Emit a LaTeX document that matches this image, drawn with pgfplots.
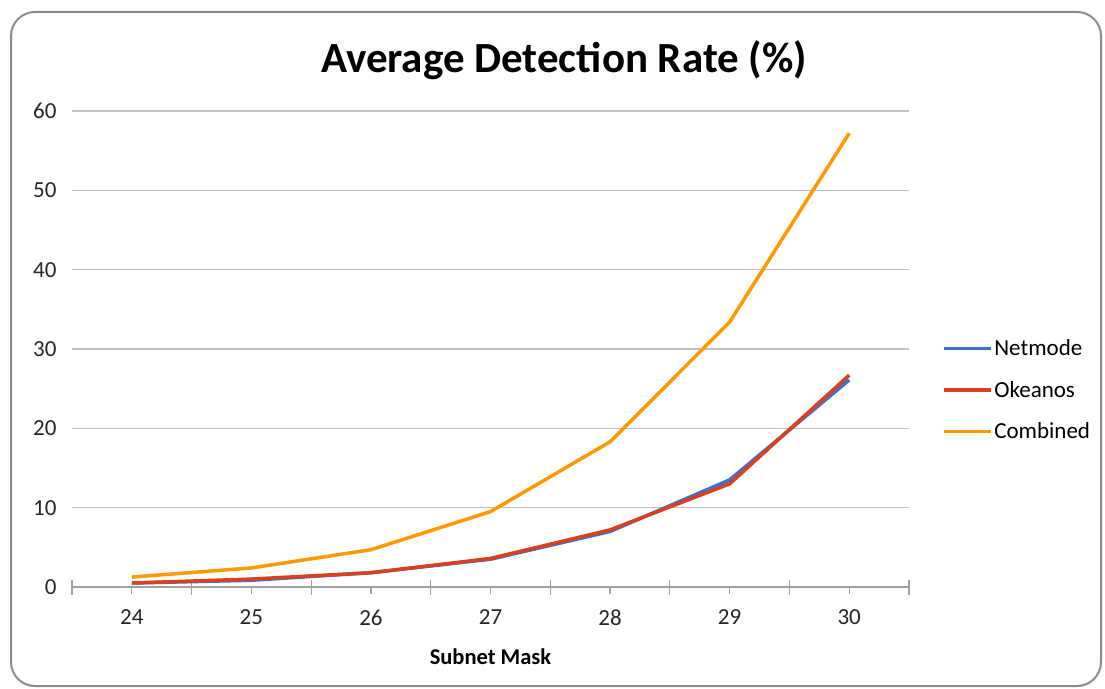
\documentclass[border=0pt]{standalone}
\usepackage{pgfplots}
\pgfplotsset{compat=1.18}
\usepackage{fontspec}
\setmainfont{Carlito}
\definecolor{cNet}{HTML}{3F6FCC}
\definecolor{cOke}{HTML}{D9401E}
\definecolor{cCom}{HTML}{FF9900}
\definecolor{cGrid}{HTML}{C0C0C0}
\definecolor{cAxis}{HTML}{A0A0A0}
\definecolor{cBorder}{HTML}{8C8C8C}
\begin{document}
\begin{tikzpicture}[x=1pt,y=1pt]
\path (0,0) rectangle (1105,688);
\draw[cBorder, line width=2pt, rounded corners=24pt] (11,2) rectangle (1101,676);
\node[font=\bfseries\fontsize{43}{48}\selectfont] at (564,628) {Average Detection Rate (\%)};
\begin{axis}[
  at={(72pt,101pt)}, anchor=south west,
  width=837pt, height=476pt, scale only axis,
  xmin=23.5, xmax=30.5, ymin=0, ymax=60,
  axis x line*=bottom, axis y line*=left,
  y axis line style={draw=none},
  x axis line style={cAxis, line width=1.2pt},
  xtick={24,...,30},
  xtick align=outside,
  major tick length=7pt,
  xtick style={cAxis, line width=1.2pt},
  extra x ticks={23.5,24.5,25.5,26.5,27.5,28.5,29.5,30.5},
  extra x tick labels={},
  extra x tick style={tick align=center, major tick length=15pt, xtick style={cAxis, line width=1.2pt}},
  ytick={0,10,...,60},
  ytick style={draw=none},
  ymajorgrids, grid style={cGrid, line width=1.2pt},
  /pgf/number format/assume math mode=true,
  tick label style={font=\fontsize{23}{26}\selectfont, text=black!85},
  yticklabel style={xshift=-12pt},
  xticklabel style={yshift=-12pt},
  xlabel={Subnet Mask},
  xlabel style={font=\bfseries\fontsize{22.5}{26}\selectfont, yshift=-2pt},
  legend style={at={(1.039,0.414)}, anchor=west, draw=none, fill=none,
    font=\fontsize{23}{26}\selectfont, row sep=20pt, inner sep=0pt,
    /tikz/every even column/.append style={column sep=0pt}},
  legend cell align=left,
  legend image code/.code={\draw[#1] (0pt,0pt) -- (47pt,0pt);},
  every axis plot/.append style={line width=3.5pt, line join=round},
]
\addplot[cNet] coordinates {(24,0.5) (25,0.85) (26,1.8) (27,3.5) (28,7.0) (29,13.5) (30,26.1)};
\addlegendentry{Netmode}
\addplot[cOke] coordinates {(24,0.5) (25,1.0) (26,1.8) (27,3.6) (28,7.2) (29,13.0) (30,26.7)};
\addlegendentry{Okeanos}
\addplot[cCom] coordinates {(24,1.25) (25,2.4) (26,4.7) (27,9.5) (28,18.3) (29,33.4) (30,57.2)};
\addlegendentry{Combined}
\end{axis}
\end{tikzpicture}
\end{document}
